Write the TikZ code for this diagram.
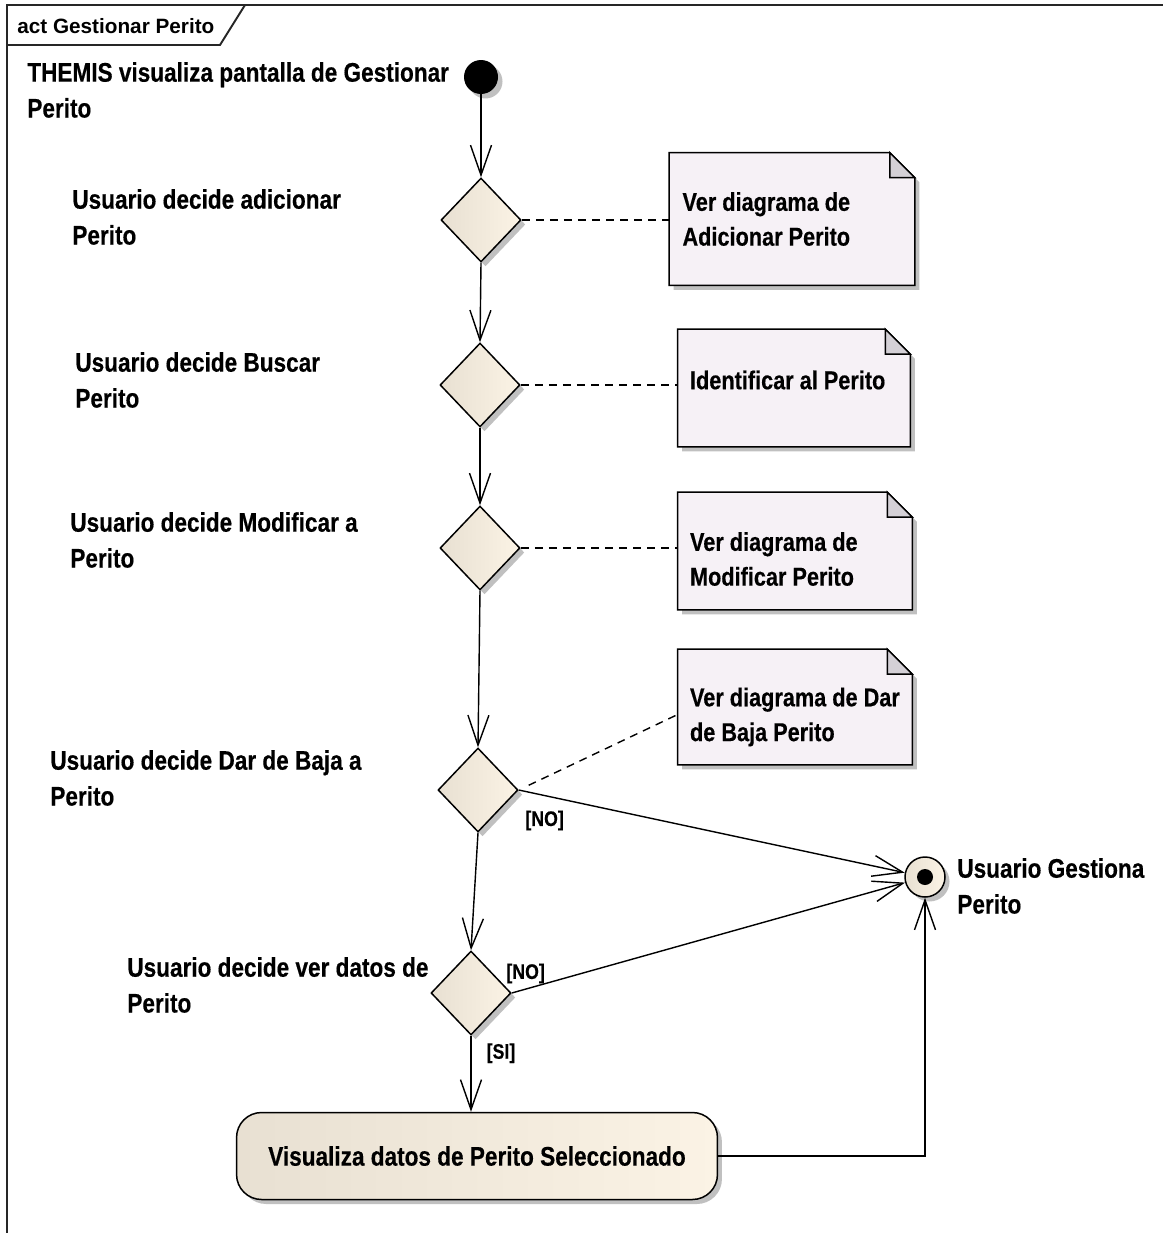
\documentclass[tikz,border=0pt]{standalone}
\usepackage{fontspec}
\setmainfont{Liberation Sans}[FakeStretch=0.84,BoldFeatures={FakeBold=0.4}]
\newfontfamily\hdrfont{Liberation Sans}
\usetikzlibrary{arrows.meta,shapes.geometric,shadows,positioning,calc}
\definecolor{nodeL}{RGB}{232,224,210}
\definecolor{nodeR}{RGB}{251,243,229}
\definecolor{notebg}{RGB}{246,241,246}
\definecolor{notefold}{RGB}{212,208,214}
\definecolor{shade}{RGB}{192,192,192}
\tikzset{
  flow/.style={line width=0.8pt,-{Straight Barb[length=0.6cm,width=0.42cm]}},
  link/.style={line width=0.8pt,dash pattern=on 4.5pt off 3.5pt},
  lbl/.style={font=\bfseries\fontsize{15.3}{20.4}\selectfont,align=left,inner sep=0pt,anchor=west},
  notetxt/.style={font=\bfseries\fontsize{14.7}{19.8}\selectfont,align=left,inner sep=0pt,anchor=west},
  guard/.style={font=\bfseries\fontsize{12}{13}\selectfont,inner sep=0pt},
  eashadow/.style={general shadow={fill=shade,shadow xshift=0.09cm,shadow yshift=-0.09cm}},
  decision/.style={diamond,draw,line width=0.85pt,minimum width=1.6cm,minimum height=1.68cm,
    inner sep=0pt,left color=nodeL,right color=nodeR,eashadow},
  startnode/.style={circle,fill=black,minimum size=0.68cm,inner sep=0pt,eashadow},
  endnode/.style={circle,draw,line width=0.85pt,minimum size=0.8cm,inner sep=0pt,
    left color=nodeL,right color=nodeR,eashadow},
  actnode/.style={rectangle,rounded corners=0.5cm,draw,line width=0.85pt,minimum width=9.62cm,
    minimum height=1.74cm,left color=nodeL,right color=nodeR,eashadow,
    font=\bfseries\fontsize{15.3}{20.4}\selectfont},
  notebox/.style={inner sep=0pt}
}
% note body with folded corner, drawn round an empty node
\newcommand{\dognote}[1]{%
  \draw[line width=0.85pt,fill=notebg,eashadow] (#1.north west) -- ($(#1.north east)+(-0.5cm,0)$)
    -- ($(#1.north east)+(0,-0.5cm)$) -- (#1.south east) -- (#1.south west) -- cycle;
  \draw[line width=0.85pt,fill=notefold] ($(#1.north east)+(-0.5cm,0)$) -- ($(#1.north east)+(-0.5cm,-0.5cm)$)
    -- ($(#1.north east)+(0,-0.5cm)$) -- cycle;}
\begin{document}
\begin{tikzpicture}[x=0.02cm,y=-0.02cm]
  \useasboundingbox (0,0) rectangle (1163,1233);
  % frame
  \draw[line width=1.1pt,black!85] (7,1233) -- (7,5) -- (1163,5);
  \draw[line width=1.1pt,black!85] (7,45) -- (220,45) -- (245,5);
  \node[font=\hdrfont\bfseries\fontsize{11.8}{13}\selectfont,inner sep=0pt,anchor=west] (hdr) at (17,26) {act Gestionar Perito};

  % nodes
  \node[startnode] (ini) at (481,77) {};
  \node[decision] (d1) at (481,220) {};
  \node[decision] (d2) at (480,385) {};
  \node[decision] (d3) at (480,548) {};
  \node[decision] (d4) at (478,790) {};
  \node[decision] (d5) at (471,993) {};
  \node[endnode] (fin) at (925,877) {};
  \fill (fin.center) circle[radius=0.16cm];
  \node[actnode] (act) at (477,1156) {Visualiza datos de Perito Seleccionado};

  % labels
  \node[lbl] (lthemis) at (27,90) {THEMIS visualiza pantalla de Gestionar\\Perito};
  \node[lbl] (ladd) at (72,217) {Usuario decide adicionar\\Perito};
  \node[lbl] (lfind) at (75,380) {Usuario decide Buscar\\Perito};
  \node[lbl] (lmod) at (70,540) {Usuario decide Modificar a\\Perito};
  \node[lbl] (ldel) at (50,778) {Usuario decide Dar de Baja a\\Perito};
  \node[lbl] (lview) at (127,985) {Usuario decide ver datos de\\Perito};
  \node[lbl] (lend) at (957,886) {Usuario Gestiona\\Perito};

  % notes
  \node[notebox,minimum width=4.9cm,minimum height=2.64cm] (n1) at (792,219) {};
  \dognote{n1}
  \node[notetxt,right=0.26cm of n1.west] (t1) {Ver diagrama de\\Adicionar Perito};
  \node[notebox,minimum width=4.64cm,minimum height=2.34cm] (n2) at (794,388) {};
  \dognote{n2}
  \node[notetxt,right=0.24cm of n2.west,yshift=0.16cm] (t2) {Identificar al Perito};
  \node[notebox,minimum width=4.68cm,minimum height=2.34cm] (n3) at (795,551) {};
  \dognote{n3}
  \node[notetxt,right=0.24cm of n3.west,yshift=-0.16cm] (t3) {Ver diagrama de\\Modificar Perito};
  \node[notebox,minimum width=4.68cm,minimum height=2.3cm] (n4) at (795,707) {};
  \dognote{n4}
  \node[notetxt,right=0.24cm of n4.west,yshift=-0.2cm] (t4) {Ver diagrama de Dar\\de Baja Perito};

  % note links
  \draw[link] (d1.east) -- (d1.east -| n1.west);
  \draw[link] (d2.east) -- (d2.east -| n2.west);
  \draw[link] (d3.east) -- (d3.east -| n3.west);
  \draw[link,shorten <=0.22cm] (d4.east) -- ([yshift=-0.15cm]n4.west);

  % flows
  \draw[flow] (ini) -- (d1.north);
  \draw[flow] (d1.south) -- (d2.north);
  \draw[flow] (d2.south) -- (d3.north);
  \draw[flow] (d3.south) -- (d4.north);
  \draw[flow] (d4.south) -- (d5.north);
  \draw[flow] (d4.east) -- (fin)
    node[guard,pos=0,anchor=north west,xshift=0.12cm,yshift=-0.4cm] (g1) {[NO]};
  \draw[flow] (d5.east) -- (fin)
    node[guard,pos=0,anchor=south west,xshift=-0.12cm,yshift=0.18cm] (g2) {[NO]};
  \draw[flow] (d5.south) -- (d5.south |- act.north)
    node[guard,pos=0,anchor=north west,xshift=0.3cm,yshift=-0.14cm] (g3) {[SI]};
  \draw[flow] (act.east) -| (fin.south);
\end{tikzpicture}
\end{document}
